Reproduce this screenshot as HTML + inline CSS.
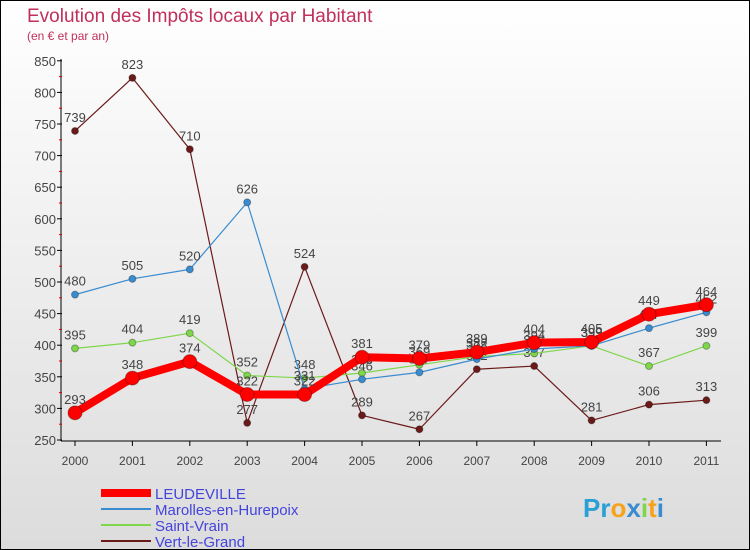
<!DOCTYPE html>
<html><head><meta charset="utf-8"><style>
body{margin:0}
#c{position:relative;width:748px;height:548px;border:1px solid #000;background:linear-gradient(#fff,#dcdcdc);font-family:"Liberation Sans",sans-serif;overflow:hidden}
</style></head><body>
<div id="c">
<svg id="s" width="748" height="548"></svg>
</div>
<script>
const years=["2000","2001","2002","2003","2004","2005","2006","2007","2008","2009","2010","2011"];
const leudeville=[293,348,374,322,322,381,379,389,404,405,449,464];
const marolles=[480,505,520,626,331,346,357,378,394,399,427,452];
const saintVrain=[395,404,419,352,348,356,369,382,387,399,367,399];
const vertLeGrand=[739,823,710,277,524,289,267,362,367,281,306,313];
const yTicks=[250,300,350,400,450,500,550,600,650,700,750,800,850];
const NS="http://www.w3.org/2000/svg";
const s=document.getElementById('s');
function X(i){return 74+i*57.4;}
function Y(v){return 439-(v-250)*0.632;}
function el(t,a,p){const e=document.createElementNS(NS,t);for(const k in a)e.setAttribute(k,a[k]);(p||s).appendChild(e);return e;}
function txt(x,y,str,a){const e=el('text',Object.assign({x:x,y:y},a));e.textContent=str;return e;}
let t=txt(26,21,"Evolution des Impôts locaux par Habitant",{fill:"#c0305a","font-size":"19"});

t=txt(26,39,"(en € et par an)",{fill:"#c0305a","font-size":"12"});

let a=el('line',{x1:60,y1:58,x2:60,y2:440,stroke:"#000"});

a=el('line',{x1:60,y1:440,x2:720,y2:440,stroke:"#000"});

yTicks.forEach((v,i)=>{
 el('line',{x1:56,y1:Y(v),x2:61,y2:Y(v),stroke:"#000"});
 if(i<yTicks.length-1)el('line',{x1:58,y1:Y(v+25),x2:61,y2:Y(v+25),stroke:"#d00"});
 const l=txt(55,Y(v)+5,String(v),{"text-anchor":"end","font-size":"13",fill:"#444"});
 
});
years.forEach((y,i)=>{
 el('line',{x1:X(i),y1:440,x2:X(i),y2:445,stroke:"#000"});
 const l=txt(X(i),464,y,{"text-anchor":"middle","font-size":"12",fill:"#444"});
 
});
function series(data,color,w,r,name){
 const g=el('g',{});
 
 el('polyline',{points:data.map((v,i)=>X(i)+","+Y(v)).join(" "),fill:"none",stroke:color,"stroke-width":w,"stroke-linejoin":"round"},g);
 data.forEach((v,i)=>{
  const c=el('circle',{cx:X(i),cy:Y(v),r:r,fill:color,stroke:"rgba(0,0,0,0.3)"},g);
  
  const l=txt(X(i),Y(v)-9,String(v),{"text-anchor":"middle","font-size":"13",fill:"#444"},g);
  
 });
}
series(vertLeGrand,"#6b1a1a",1.2,3.5,"series-vert-le-grand");
series(saintVrain,"#7ed64a",1.2,3.5,"series-saint-vrain");
series(marolles,"#3a8cd0",1.2,3.5,"series-marolles");
series(leudeville,"#ff0000",8,7,"series-leudeville");
const leg=[["LEUDEVILLE","#ff0000",8],["Marolles-en-Hurepoix","#3a8cd0",2],["Saint-Vrain","#7ed64a",2],["Vert-le-Grand","#6b1a1a",2]];
leg.forEach((d,i)=>{
 const g=el('g',{});
 
 const y=492+i*16;
 el('line',{x1:100,y1:y,x2:150,y2:y,stroke:d[1],"stroke-width":d[2]},g);
 txt(154,y+6,d[0],{"font-size":"15",fill:"#4444dd"},g);
});
let p=txt(582,516,"Pr",{"font-size":"26","font-weight":"bold",fill:"#2a9fd6"});

const parts=[["o","#f7a21b"],["x","#3a8cd0"],["i","#7ed64a"],["t","#f7a21b"],["i","#3a8cd0"]];
parts.forEach(q=>{const sp=el('tspan',{fill:q[1]},p);sp.textContent=q[0];});
</script>
</body></html>
